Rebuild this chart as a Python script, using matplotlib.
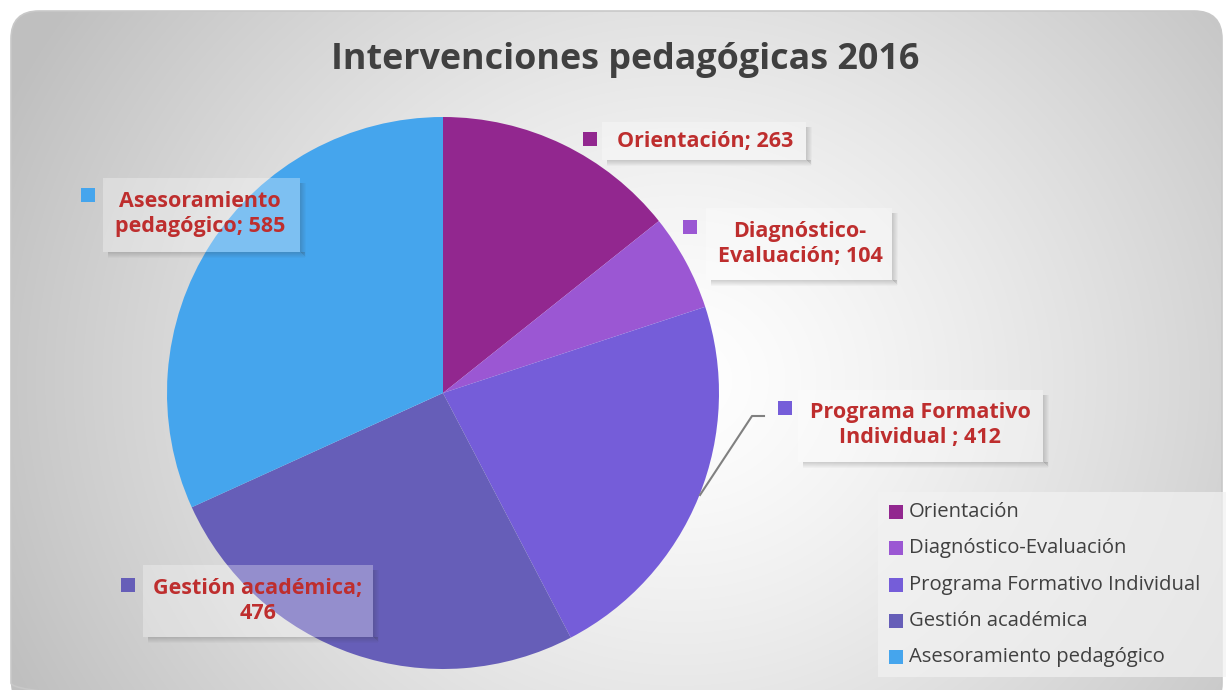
import numpy as np
import matplotlib.pyplot as plt
from matplotlib.patches import Rectangle, FancyBboxPatch

categories = ["Orientación", "Diagnóstico-Evaluación", "Programa Formativo Individual",
              "Gestión académica", "Asesoramiento pedagógico"]
values = [263, 104, 412, 476, 585]
label_texts = ["Orientación; 263", "Diagnóstico-\nEvaluación; 104",
               "Programa Formativo\nIndividual ; 412", "Gestión académica;\n476",
               "Asesoramiento\npedagógico; 585"]
colors = ["#92278F", "#9B57D3", "#755DD9", "#665EB8", "#45A5ED"]

W, H = 1226, 690
fig = plt.figure(figsize=(W / 100, H / 100), dpi=100)
fig.patch.set_facecolor("white")

# background axes in pixel coordinates (y down)
bg = fig.add_axes([0, 0, 1, 1])
bg.set_xlim(0, W)
bg.set_ylim(H, 0)
bg.axis("off")
yy, xx = np.mgrid[0:H, 0:W]
d = np.sqrt((xx - 680) ** 2 + ((yy - 380) / 0.9) ** 2)
g = np.clip(1 - 0.24 * (d / 720) ** 1.3, 0.75, 1.0)
img = bg.imshow(np.dstack([g, g, g]), extent=[0, W, H, 0], zorder=0)
panel = FancyBboxPatch((11, 11), 1211, 700, boxstyle="round,pad=0,rounding_size=28",
                       transform=bg.transData, facecolor="none", edgecolor="#c8c8c8", lw=1.2)
bg.add_patch(panel)
img.set_clip_path(panel)

# title
bg.text(625, 60, "Intervenciones pedagógicas 2016", ha="center", va="center",
        fontsize=25.8, fontweight="bold", color="#404040", family="Open Sans")

# pie
cx, cy, r = 443, 393, 276
ax = fig.add_axes([(cx - r) / W, 1 - (cy + r) / H, 2 * r / W, 2 * r / H])
ax.pie(values, colors=colors, startangle=90, counterclock=False, radius=1,
       wedgeprops=dict(linewidth=0))
ax.set_xlim(-1, 1)
ax.set_ylim(-1, 1)
ax.axis("off")

# top layer for labels
top = fig.add_axes([0, 0, 1, 1])
top.set_xlim(0, W)
top.set_ylim(H, 0)
top.axis("off")
top.patch.set_alpha(0)

# leader line for Programa Formativo
top.plot([700, 752, 764], [495, 416, 416], color="#808080", lw=1.5)


def soft_shadow(x0, y0, x1, y1):
    for k in range(1, 7):
        a = 0.2 * (1 - (k - 1) / 6)
        top.add_patch(Rectangle((x0 + 5, y1 + k - 1), x1 - x0, 1, facecolor="#333333",
                                edgecolor="none", alpha=a))
        top.add_patch(Rectangle((x1 + k - 1, y0 + 5), 1, y1 - y0 - 5 + k - 1,
                                facecolor="#333333", edgecolor="none", alpha=a))


# data labels: (text center x, y, box x0, y0, x1, y1, marker x, y)
label_boxes = [
    (705, 141, 602, 122, 806, 160, 590, 139),
    (800, 244, 706, 208, 892, 280, 690, 227),
    (920, 425, 798, 390, 1043, 462, 785, 408),
    (258, 601, 143, 565, 373, 637, 128, 585),
    (200, 214, 103, 178, 300, 252, 88, 195),
]
for txt, col, (tx, ty, x0, y0, x1, y1, mx, my) in zip(label_texts, colors, label_boxes):
    soft_shadow(x0, y0, x1, y1)
    top.add_patch(Rectangle((x0, y0), x1 - x0, y1 - y0, facecolor="white",
                            edgecolor="none", alpha=0.3))
    top.text(tx, ty, txt, ha="center", va="center", fontsize=15.5, fontweight="bold",
             color="#BE2E2E", family="Open Sans", linespacing=1.2)
    top.add_patch(Rectangle((mx - 7, my - 7), 14, 14, facecolor=col, edgecolor="none"))

# legend
top.add_patch(Rectangle((878, 492), 360, 185, facecolor="#f2f2f2", edgecolor="none",
                        alpha=0.7))
for i, (cat, col) in enumerate(zip(categories, colors)):
    ly = 512 + i * 36.3
    top.add_patch(Rectangle((889, ly - 7), 14, 14, facecolor=col, edgecolor="none"))
    top.text(909, ly, cat, ha="left", va="center", fontsize=14.6,
             color="#404040", family="Open Sans")

fig.savefig("out.png", dpi=100)
